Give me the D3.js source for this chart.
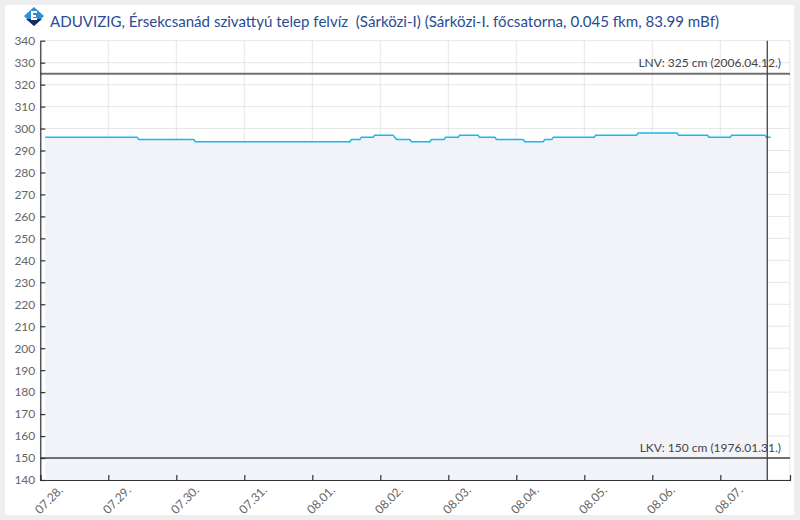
<!DOCTYPE html>
<html>
<head>
<meta charset="utf-8">
<script src="https://cdn.jsdelivr.net/npm/d3@7/dist/d3.min.js"></script>
<style>
  html, body { margin: 0; padding: 0; background: #eeeeee; }
  svg { display: block; }
  text { font-family: "Lato", "Open Sans", sans-serif; }
</style>
</head>
<body>
<svg id="chart" width="800" height="520"></svg>
<script>
// ---- Data ----
const titleText = "ADUVIZIG, Érsekcsanád szivattyú telep felvíz  (Sárközi-I) (Sárközi-I. főcsatorna, 0.045 fkm, 83.99 mBf)";
const times = [
  "2024-07-28T01:45","2024-07-29T10:15",
  "2024-07-29T10:45","2024-07-30T06:15",
  "2024-07-30T06:45","2024-08-01T13:15",
  "2024-08-01T13:45","2024-08-01T16:45",
  "2024-08-01T17:15","2024-08-01T21:30",
  "2024-08-01T22:00","2024-08-02T04:30",
  "2024-08-02T05:45","2024-08-02T10:30",
  "2024-08-02T11:00","2024-08-02T17:30",
  "2024-08-02T18:00","2024-08-02T22:30",
  "2024-08-02T23:00","2024-08-03T03:30",
  "2024-08-03T04:00","2024-08-03T10:30",
  "2024-08-03T11:00","2024-08-03T16:30",
  "2024-08-03T17:00","2024-08-04T02:30",
  "2024-08-04T03:00","2024-08-04T09:30",
  "2024-08-04T10:00","2024-08-04T12:30",
  "2024-08-04T13:00","2024-08-05T03:30",
  "2024-08-05T04:00","2024-08-05T18:30",
  "2024-08-05T19:00","2024-08-06T08:45",
  "2024-08-06T09:15","2024-08-06T19:30",
  "2024-08-06T20:00","2024-08-07T03:30",
  "2024-08-07T04:00","2024-08-07T15:45",
  "2024-08-07T16:15","2024-08-07T17:45"
];
const levels = [
  296,296, 295,295, 294,294, 295,295, 296,296, 297,297,
  295,295, 294,294, 295,295, 296,296, 297,297, 296,296,
  295,295, 294,294, 295,295, 296,296, 297,297, 298,298,
  297,297, 296,296, 297,297, 296,296
];
const xTickDates = ["2024-07-28","2024-07-29","2024-07-30","2024-07-31","2024-08-01","2024-08-02",
                    "2024-08-03","2024-08-04","2024-08-05","2024-08-06","2024-08-07"];
const yTicks = [140,150,160,170,180,190,200,210,220,230,240,250,260,270,280,290,300,310,320,330,340];
const xDomain = ["2024-07-28T00:00","2024-08-08T00:36"];
const yDomain = [140, 340];
const nowTime = "2024-08-07T16:35";
const plotLines = [
  { value: 325, label: "LNV: 325 cm (2006.04.12.)" },
  { value: 150, label: "LKV: 150 cm (1976.01.31.)" }
];

// ---- Drawing ----
const parseT = d3.timeParse("%Y-%m-%dT%H:%M");
const parseD = d3.timeParse("%Y-%m-%d");
const series = times.map((t, i) => ({ t: parseT(t), v: levels[i] }));

const L = 40.3, R = 790, T = 40.7, B = 480;
const x = d3.scaleTime().domain(xDomain.map(parseT)).range([L, R]);
const y = d3.scaleLinear().domain(yDomain).range([B, T]);

const svg = d3.select("#chart");
svg.append("rect").attr("x", 5).attr("y", 5).attr("width", 789).attr("height", 510).attr("fill", "#ffffff");

// grid
const grid = svg.append("g");
grid.selectAll("line.h").data(yTicks).join("line")
  .attr("x1", L).attr("x2", R).attr("y1", d => y(d)).attr("y2", d => y(d))
  .attr("stroke", "#e6e6e6").attr("stroke-width", 1);
grid.selectAll("line.v").data(xTickDates.map(parseD).concat([x.domain()[1]])).join("line")
  .attr("x1", d => x(d)).attr("x2", d => x(d)).attr("y1", T).attr("y2", B)
  .attr("stroke", "#e6e6e6").attr("stroke-width", 1);

// area clipped at "now"
const nowX = x(parseT(nowTime));
svg.append("clipPath").attr("id", "nowclip").append("rect")
  .attr("x", L).attr("y", T).attr("width", nowX - L).attr("height", B - T);
const area = d3.area().x(d => x(d.t)).y0(y(yDomain[0])).y1(d => y(d.v));
svg.append("path").datum(series).attr("d", area).attr("fill", "#f2f3f8")
  .attr("clip-path", "url(#nowclip)");

// line
const line = d3.line().x(d => x(d.t)).y(d => y(d.v));
svg.append("path").datum(series).attr("d", line).attr("fill", "none")
  .attr("stroke", "#17b8ee").attr("stroke-width", 1.5).attr("stroke-linejoin", "round");

// plot lines
const pl = svg.append("g");
pl.selectAll("line").data(plotLines).join("line")
  .attr("x1", L).attr("x2", R).attr("y1", d => y(d.value)).attr("y2", d => y(d.value))
  .attr("stroke", "#707070").attr("stroke-width", 2);
pl.selectAll("text").data(plotLines).join("text")
  .attr("x", 781).attr("y", d => y(d.value) - 6.5)
  .attr("text-anchor", "end").attr("font-size", "12px").attr("fill", "#444")
  .text(d => d.label);

// now line
svg.append("line").attr("x1", nowX).attr("x2", nowX).attr("y1", T).attr("y2", B)
  .attr("stroke", "#444").attr("stroke-width", 1.3);

// axes
const xAxis = d3.axisBottom(x).tickValues(xTickDates.map(parseD))
  .tickSizeInner(-5).tickSizeOuter(-5).tickFormat(d3.timeFormat("%m.%d."));
const gx = svg.append("g").attr("transform", `translate(0,${B})`).call(xAxis);
gx.selectAll("text").attr("x", null).attr("y", null).attr("dy", null)
  .attr("text-anchor", "end").attr("transform", "translate(23,11) rotate(-45)");

const yAxis = d3.axisLeft(y).tickValues(yTicks).tickSizeInner(-5).tickSizeOuter(0).tickPadding(5);
const gy = svg.append("g").attr("transform", `translate(${L},0)`).call(yAxis);

[gx, gy].forEach(g => {
  g.attr("font-family", null).attr("font-size", null);
  g.select(".domain").attr("stroke", "#333").attr("stroke-width", 1.2);
  g.selectAll(".tick line").attr("stroke", "#333").attr("stroke-width", 1.2);
  g.selectAll("text").attr("fill", "#666").style("font-size", "12px");
});

// title icon
const icon = svg.append("g").attr("transform", "translate(34,17)");
icon.append("path").attr("d", "M0,-10 L10,-1 L0,9 L-10,-1 Z").attr("fill", "#2e8fd6");
icon.append("path").attr("d", "M-8,2 L8,2 L0,9 Z").attr("fill", "#1c2a66");
icon.append("path").attr("d", "M-3,-6 L3,-6 L3,-4 L-1,-4 L-1,-2 L2,-2 L2,0 L-1,0 L-1,1 L3,1 L3,3 L-3,3 Z").attr("fill", "#ffffff");

// title (keep the double space)
const title = svg.append("text").attr("x", 50).attr("y", 26.5).attr("fill", "#2b4c91")
  .attr("xml:space", "preserve").style("white-space", "pre")
  .style("font-size", "16px").text(titleText);
const w = title.node().getComputedTextLength();
title.style("font-size", (16 * 669 / w).toFixed(2) + "px");
</script>
</body>
</html>
